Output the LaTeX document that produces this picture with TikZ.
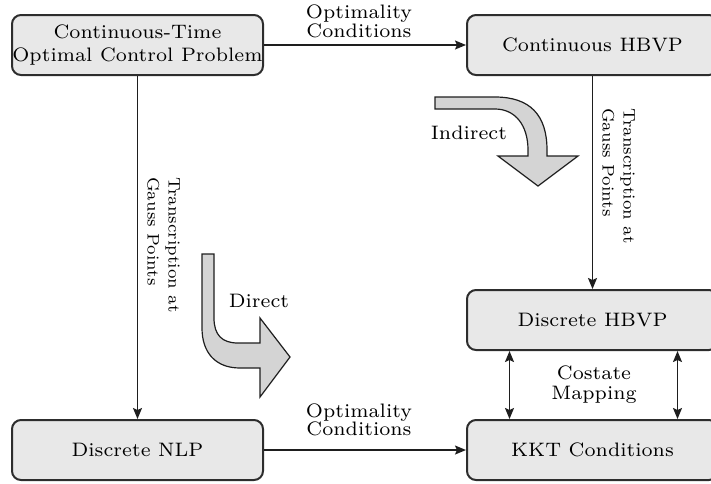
\documentclass[tikz,border=0pt]{standalone}
\usepackage{fontspec}
\setmainfont{lmroman7-regular.otf}
\usetikzlibrary{arrows.meta}
\definecolor{boxfill}{RGB}{232,232,232}
\definecolor{boxline}{RGB}{45,45,45}
\definecolor{fatfill}{RGB}{212,212,212}
\definecolor{lineclr}{RGB}{30,30,30}
\begin{document}
\begin{tikzpicture}[x=1pt,y=-1pt,
  box/.style={draw=boxline, fill=boxfill, line width=2pt, rounded corners=9pt,
    minimum width=251pt, minimum height=60pt, inner sep=0pt,
    font=\fontsize{19.5}{23}\selectfont, align=center},
  tip/.tip={Stealth[length=11pt,width=9pt,inset=2pt]},
  conn/.style={draw=lineclr, line width=1.5pt, -tip},
  biconn/.style={draw=lineclr, line width=1.5pt, tip-tip},
  lbl/.style={font=\fontsize{19.5}{18.4}\selectfont, align=center, inner sep=0pt},
  rlbl/.style={font=\fontsize{16.7}{21}\selectfont, align=left, inner sep=0pt,
    rotate=-90, anchor=north west},
  fat/.style={draw=lineclr, fill=fatfill, line width=1.2pt, line join=miter}
]
\useasboundingbox (0,0) rectangle (711,483);
\clip (0,0) rectangle (711,483);

\node[box] (A) at (137.5,45) {Continuous-Time\\Optimal Control Problem};
\node[box] (B) at (592.5,45) {Continuous HBVP};
\node[box] (C) at (592.5,320) {Discrete HBVP};
\node[box] (D) at (592.5,450) {KKT Conditions};
\node[box] (E) at (137.5,450) {Discrete NLP};

\draw[conn] (A.east) -- (B.west);
\draw[conn] (A.south) -- (E.north);
\draw[conn] (B.south) -- (C.north);
\draw[conn] (E.east) -- (D.west);
\draw[biconn] ([xshift=-83pt]C.south) -- ([xshift=-83pt]D.north);
\draw[biconn] ([xshift=85pt]C.south) -- ([xshift=85pt]D.north);

\node[lbl, anchor=south] (oc1) at (359,37.7) {Optimality\\Conditions};
\node[lbl, anchor=south] (oc2) at (359,436) {Optimality\\Conditions};
\node[lbl, anchor=south, font=\fontsize{19.5}{20}\selectfont] (cm) at (594,404) {Costate\\Mapping};
\node[rlbl] (tg1) at (180,177) {Transcription at\\Gauss Points};
\node[rlbl] (tg2) at (635,108) {Transcription at\\Gauss Points};
\node[lbl, anchor=base] (ind) at (469,139) {Indirect};
\node[lbl, anchor=base] (dir) at (259,307) {Direct};

% Indirect fat arrow
\draw[fat] (435,97) -- (495,97) .. controls (530,97) and (547,115) .. (547,150)
  -- (547,156) -- (578,156) -- (538,186) -- (498,156) -- (528,156) -- (528,150)
  .. controls (528,125) and (515,109) .. (495,109) -- (435,109) -- cycle;

% Direct fat arrow
\draw[fat] (202,254) -- (214,254) -- (214,318)
  .. controls (214,335) and (222,343) .. (238,343) -- (260,343) -- (260,318)
  -- (290,357) -- (260,397) -- (260,368) -- (240,368)
  .. controls (215,368) and (202,352) .. (202,328) -- cycle;
\end{tikzpicture}
\end{document}
